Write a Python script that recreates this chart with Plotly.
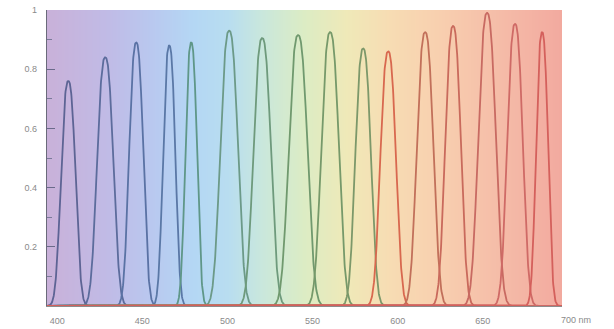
import numpy as np
import plotly.graph_objects as go

# ---- data ----
peak_centers = [406.5, 428.2, 446.4, 465.8, 478.7, 501.0, 520.4, 541.5, 560.3,
                579.7, 594.4, 616.1, 632.5, 652.5, 668.9, 684.8]
peak_heights = [0.76, 0.84, 0.89, 0.88, 0.89, 0.93, 0.905, 0.915, 0.925,
                0.87, 0.86, 0.925, 0.946, 0.99, 0.953, 0.925]
# half width at half maximum, nm
peak_hwhm = [4.7, 5.3, 4.6, 4.0, 3.8, 5.7, 5.7, 6.1, 5.7,
             5.1, 5.1, 5.4, 5.1, 5.7, 5.1, 3.9]
peak_colors = ["#5d6494", "#5c6c9c", "#5a72a4", "#5a78a6", "#5f9788", "#6c9a88",
               "#6e9a7c", "#70996e", "#76996a", "#7c986a", "#d8684f", "#c2705a",
               "#c96a5c", "#c86a62", "#cf6a66", "#d4605c"]

y_tick_vals = [0.2, 0.4, 0.6, 0.8, 1.0]
y_tick_text = ["0.2", "0.4", "0.6", "0.8", "1"]
x_tick_vals = [400, 450, 500, 550, 600, 650]
x_tick_text = ["400", "450", "500", "550", "600", "650"]
x_end_label = (700, "700 nm")

x_min, x_max = 394.0, 696.5

bg_stops = [(394, "#c9b1d9"), (430, "#c0bbe6"), (455, "#b9c8ef"), (480, "#b4d7f4"),
            (500, "#b8ddf0"), (520, "#c9e7dc"), (545, "#dcecc4"), (570, "#efe9b8"),
            (595, "#f7dcb3"), (625, "#f8cfaf"), (660, "#f5bca8"), (697, "#f2a99f")]

fig = go.Figure()

# spectral background
bx = np.arange(x_min, x_max + 0.5, 1.0)
colorscale = [[(w - bg_stops[0][0]) / (bg_stops[-1][0] - bg_stops[0][0]), c] for w, c in bg_stops]
fig.add_trace(go.Heatmap(x=bx, y=[0, 1], z=[bx, bx], colorscale=colorscale,
                         zmin=bg_stops[0][0], zmax=bg_stops[-1][0], showscale=False,
                         zsmooth="best", hoverinfo="skip"))

xs = np.linspace(x_min, x_max, 2000)
for c, h, hw, col in zip(peak_centers, peak_heights, peak_hwhm, peak_colors):
    ys = h * np.exp(-np.log(2) * np.abs((xs - c) / hw) ** 2.5)
    fig.add_trace(go.Scatter(x=xs, y=ys, mode="lines",
                             line=dict(color=col, width=1.8), hoverinfo="skip",
                             showlegend=False))

fig.add_annotation(x=(x_end_label[0] - x_min) / (x_max - x_min), y=0,
                   xref="paper", yref="paper", text=x_end_label[1], showarrow=False,
                   yanchor="top", yshift=-7, xanchor="left", xshift=-9,
                   font=dict(family="Liberation Sans, Arial", size=9, color="#8a8a8a"))

fig.update_layout(
    width=614, height=329,
    margin=dict(l=47, r=52, t=10, b=23),
    paper_bgcolor="white", plot_bgcolor="white",
    showlegend=False,
    font=dict(family="Liberation Sans, Arial", size=9, color="#8a8a8a"),
)
fig.update_xaxes(range=[x_min, x_max], tickvals=x_tick_vals, ticktext=x_tick_text,
                 showgrid=False, zeroline=False, showline=True, linecolor="#8c8c8c",
                 linewidth=1.2, ticks="", ticklabelstandoff=6, automargin=False)
fig.update_yaxes(range=[0, 1], tickvals=y_tick_vals, ticktext=y_tick_text,
                 showgrid=False, zeroline=False, showline=True, linecolor="#6a6a7a",
                 linewidth=1.2, ticks="inside", ticklen=8, tickcolor="#6a6a8a",
                 minor=dict(ticks="inside", ticklen=5, tickcolor="#7a7a9a",
                            tickvals=[0.1, 0.3, 0.5, 0.7, 0.9]),
                 ticklabelstandoff=7, automargin=False)

fig.write_html("out.html", config={"displayModeBar": False},
               post_script="document.body.style.margin='0px';")
